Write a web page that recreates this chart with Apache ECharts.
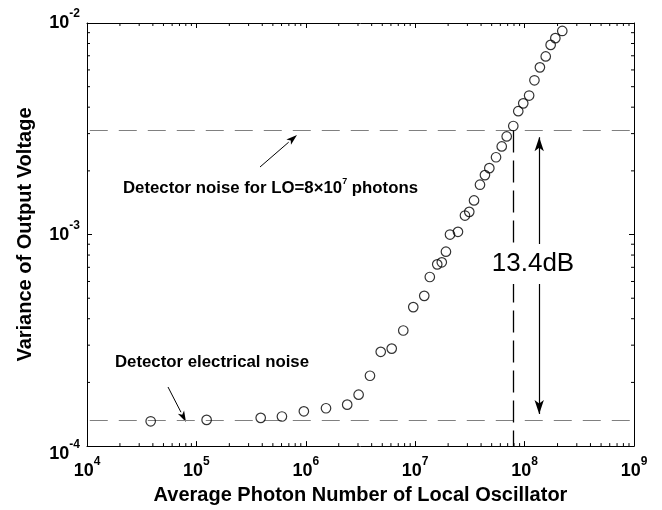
<!DOCTYPE html>
<html><head><meta charset="utf-8">
<script src="https://cdn.jsdelivr.net/npm/echarts@6/dist/echarts.min.js"></script>
<style>html,body{margin:0;padding:0;background:#fff}#c{width:662px;height:510px}</style>
</head><body><div id="c"></div>
<script>
// ---- data ----
const photonNumber = [3.82e4, 1.24e5, 3.87e5, 6.05e5, 9.6e5, 1.53e6, 2.39e6, 3.04e6, 3.86e6, 4.84e6,
  6.1e6, 7.78e6, 9.6e6, 1.21e7, 1.36e7, 1.59e7, 1.75e7, 1.91e7, 2.08e7, 2.46e7,
  2.85e7, 3.12e7, 3.45e7, 3.91e7, 4.34e7, 4.76e7, 5.48e7, 6.18e7, 6.86e7, 7.88e7,
  8.75e7, 9.72e7, 1.10e8, 1.23e8, 1.38e8, 1.56e8, 1.73e8, 1.91e8, 2.21e8];
const outputVariance = [1.31e-4, 1.33e-4, 1.36e-4, 1.38e-4, 1.46e-4, 1.51e-4, 1.57e-4, 1.75e-4, 2.15e-4, 2.79e-4,
  2.89e-4, 3.52e-4, 4.54e-4, 5.13e-4, 6.3e-4, 7.23e-4, 7.39e-4, 8.3e-4, 1.0e-3, 1.03e-3,
  1.23e-3, 1.28e-3, 1.45e-3, 1.72e-3, 1.91e-3, 2.06e-3, 2.32e-3, 2.61e-3, 2.91e-3, 3.26e-3,
  3.83e-3, 4.17e-3, 4.54e-3, 5.36e-3, 6.17e-3, 6.95e-3, 7.88e-3, 8.48e-3, 9.17e-3];
const electricalNoiseLevel = 1.32e-4;
const detectorNoiseLevel = 3.1e-3;
const loPhotonMarker = 7.8e7;
const dbArrowX = 1.36e8;
const dbArrowEnds = [2.88e-3, 1.42e-4];
const xExtent = [1e4, 1e9];
const yExtent = [1e-4, 1e-2];
const noiseLineSpan = [1.06e4, 0.95e9];
const xDecades = [4, 5, 6, 7, 8];
const yDecades = [-4, -3];
const minorMultipliers = [2, 3, 4, 5, 6, 7, 8, 9];

const FONT = '"Liberation Sans", Arial, sans-serif';
const xMinor = [], yMinor = [];
xDecades.forEach(d => minorMultipliers.forEach(m => xMinor.push(m * Math.pow(10, d))));
yDecades.forEach(d => minorMultipliers.forEach(m => yMinor.push(m * Math.pow(10, d))));

const labelRich = {
  b: { fontSize: 18, fontWeight: 'bold', fontFamily: FONT, color: '#000' },
  s: { fontSize: 12, fontWeight: 'bold', fontFamily: FONT, color: '#000', padding: [0, 0, 18, 0] },
  bl: { fontSize: 18, fontWeight: 'bold', fontFamily: FONT, color: '#000', padding: [16, 0, 0, 0] },
  sl: { fontSize: 12, fontWeight: 'bold', fontFamily: FONT, color: '#000', padding: [0, 0, 3, 0] }
};
const expFormatter = v => '{b|10}{s|' + Math.round(Math.log10(v)) + '}';
const yExpFormatter = v => {
  const e = Math.round(Math.log10(v));
  return e === Math.round(Math.log10(yExtent[0])) ? '{bl|10}{sl|' + e + '}' : '{b|10}{s|' + e + '}';
};

const axisCommon = {
  type: 'log', logBase: 10, splitNumber: 5,
  axisLine: { show: true, onZero: false, lineStyle: { color: '#000', width: 1 } },
  axisTick: { show: true, inside: true, length: 5, lineStyle: { color: '#000', width: 1 } },
  splitLine: { show: false }, minorTick: { show: false }
};

const chart = echarts.init(document.getElementById('c'), null, { renderer: 'canvas' });

function arrowGraphic(tail, tip, headLen, headHalf) {
  const dx = tip[0] - tail[0], dy = tip[1] - tail[1];
  const L = Math.sqrt(dx * dx + dy * dy), ux = dx / L, uy = dy / L;
  const bx = tip[0] - ux * headLen, by = tip[1] - uy * headLen;
  const nx = -uy, ny = ux;
  return {
    type: 'group', z: 100, children: [
      { type: 'line', shape: { x1: tail[0], y1: tail[1], x2: bx, y2: by }, style: { stroke: '#000', lineWidth: 1 } },
      { type: 'polygon', shape: { points: [tip, [bx + nx * headHalf, by + ny * headHalf], [tip[0] - ux * headLen * 0.75, tip[1] - uy * headLen * 0.75], [bx - nx * headHalf, by - ny * headHalf]] }, style: { fill: '#000' } }
    ]
  };
}

function minorTickSeries(values, isX) {
  return {
    type: 'custom', silent: true, clip: false, z: 5,
    xAxisIndex: 0, yAxisIndex: 0,
    data: values.map(v => isX ? [v, yExtent[0]] : [xExtent[0], v]),
    renderItem(params, api) {
      const len = 3;
      if (isX) {
        const v = api.value(0);
        const b = api.coord([v, yExtent[0]]), t = api.coord([v, yExtent[1]]);
        return { type: 'group', children: [
          { type: 'line', shape: { x1: b[0], y1: b[1], x2: b[0], y2: b[1] - len }, style: { stroke: '#000', lineWidth: 1 } },
          { type: 'line', shape: { x1: t[0], y1: t[1], x2: t[0], y2: t[1] + len }, style: { stroke: '#000', lineWidth: 1 } }
        ] };
      } else {
        const v = api.value(1);
        const l = api.coord([xExtent[0], v]), r = api.coord([xExtent[1], v]);
        return { type: 'group', children: [
          { type: 'line', shape: { x1: l[0], y1: l[1], x2: l[0] + len, y2: l[1] }, style: { stroke: '#000', lineWidth: 1 } },
          { type: 'line', shape: { x1: r[0], y1: r[1], x2: r[0] - len, y2: r[1] }, style: { stroke: '#000', lineWidth: 1 } }
        ] };
      }
    }
  };
}

const dashGray = { color: '#808080', width: 1, type: [18, 11] };

const option = {
  backgroundColor: '#fff',
  animation: false,
  grid: { left: 87, right: 28, top: 23, bottom: 61 },
  xAxis: [
    Object.assign({}, axisCommon, {
      position: 'bottom', min: xExtent[0], max: xExtent[1],
      axisLabel: { show: true, margin: 10, formatter: expFormatter, rich: labelRich },
      name: 'Average Photon Number of Local Oscillator', nameLocation: 'middle', nameGap: 38,
      nameTextStyle: { fontSize: 20, fontWeight: 'bold', fontFamily: FONT, color: '#000' }
    }),
    Object.assign({}, axisCommon, { position: 'top', min: xExtent[0], max: xExtent[1], axisLabel: { show: false } })
  ],
  yAxis: [
    Object.assign({}, axisCommon, {
      position: 'left', min: yExtent[0], max: yExtent[1],
      axisLabel: { show: true, margin: 7, formatter: yExpFormatter, rich: labelRich },
      name: 'Variance of Output Voltage', nameLocation: 'middle', nameGap: 52,
      nameTextStyle: { fontSize: 20, fontWeight: 'bold', fontFamily: FONT, color: '#000' }
    }),
    Object.assign({}, axisCommon, { position: 'right', min: yExtent[0], max: yExtent[1], axisLabel: { show: false } })
  ],
  series: [
    {
      type: 'scatter', xAxisIndex: 0, yAxisIndex: 0, z: 10,
      data: photonNumber.map((x, i) => [x, outputVariance[i]]),
      symbol: 'circle', symbolSize: 9.5,
      itemStyle: { color: 'rgba(255,255,255,0)', borderColor: '#000', borderWidth: 1.2 },
      markLine: {
        silent: true, animation: false, symbol: ['none', 'none'],
        label: { show: false },
        data: [
          [ { coord: [noiseLineSpan[0], electricalNoiseLevel], lineStyle: dashGray },
            { coord: [noiseLineSpan[1], electricalNoiseLevel] } ],
          [ { coord: [noiseLineSpan[0], detectorNoiseLevel], lineStyle: dashGray },
            { coord: [noiseLineSpan[1], detectorNoiseLevel] } ],
          [ { coord: [loPhotonMarker, detectorNoiseLevel], lineStyle: { color: '#000', width: 1.3, type: [22, 8] } },
            { coord: [loPhotonMarker, yExtent[0]] } ],
          [ { coord: [dbArrowX, dbArrowEnds[0]], symbol: 'arrow', symbolSize: [7, 14], lineStyle: { color: '#000', width: 1.2, type: 'solid' } },
            { coord: [dbArrowX, dbArrowEnds[1]], symbol: 'arrow', symbolSize: [7, 14] } ]
        ]
      }
    },
    minorTickSeries(xMinor, true),
    minorTickSeries(yMinor, false)
  ],
  graphic: [
    { type: 'text', z: 100, style: {
        x: 123, y: 188, verticalAlign: 'middle',
        text: '{a|Detector noise for LO=8×10}{s|7}{a| photons}',
        rich: { a: { fontSize: 16.8, fontWeight: 'bold', fontFamily: FONT, fill: '#000' },
                s: { fontSize: 9, fontWeight: 'bold', fontFamily: FONT, fill: '#000', padding: [0, 0, 12, 0] } }
      } },
    { type: 'text', z: 100, style: {
        x: 115, y: 362, verticalAlign: 'middle', text: 'Detector electrical noise',
        fontSize: 16.8, fontWeight: 'bold', fontFamily: FONT, fill: '#000'
      } },
    { type: 'text', z: 100, style: {
        x: 533, y: 264, align: 'center', verticalAlign: 'middle', text: '13.4dB',
        fontSize: 26, fontFamily: FONT, fill: '#000', backgroundColor: '#fff', padding: [7, 2]
      } },
    arrowGraphic([260, 167], [297, 135], 11, 3.5),
    arrowGraphic([168, 387], [186, 422], 11, 3.5)
  ]
};
chart.setOption(option);
</script></body></html>
